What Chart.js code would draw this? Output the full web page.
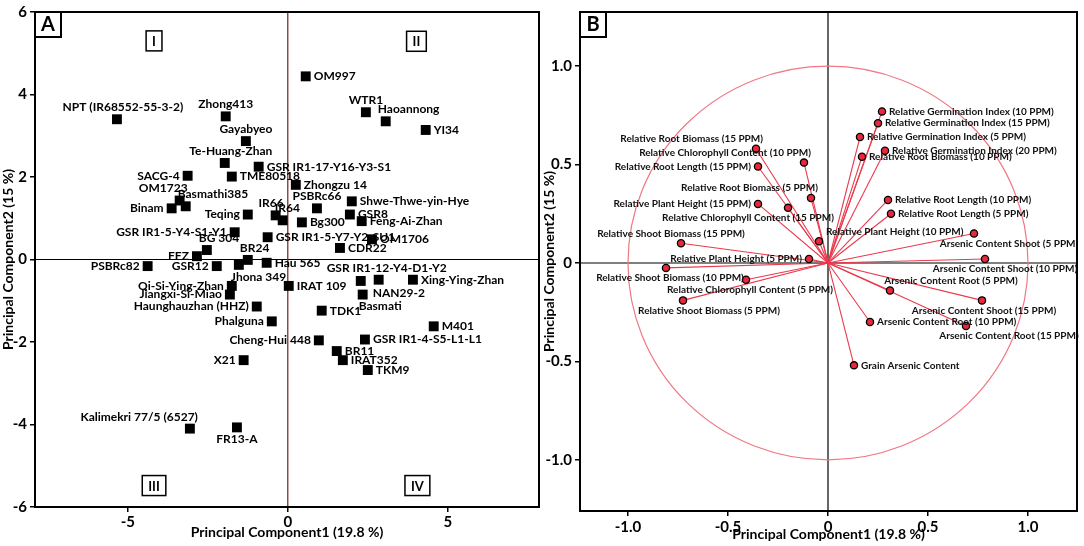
<!DOCTYPE html>
<html>
<head>
<meta charset="utf-8">
<script src="https://cdn.jsdelivr.net/npm/chart.js@4.4.1/dist/chart.umd.min.js"></script>
<style>
body{margin:0;background:#fff;}
#wrap{position:relative;width:1084px;height:546px;}
#boxA{position:absolute;left:0;top:0;width:541px;height:546px;}
#boxB{position:absolute;left:541px;top:0;width:543px;height:546px;}
</style>
</head>
<body>
<div id="wrap">
  <div id="boxA"><canvas id="chartA"></canvas></div>
  <div id="boxB"><canvas id="chartB"></canvas></div>
</div>
<script>
'use strict';

// panel A: cultivar scores
const cultivars = ['NPT (IR68552-55-3-2)', 'Zhong413', 'Gayabyeo', 'Te-Huang-Zhan', 'GSR IR1-17-Y16-Y3-S1',
  'TME80518', 'SACG-4', 'OM1723', 'Basmathi385', 'Binam', 'Teqing', 'IR66', 'IR64', 'PSBRc66', 'Bg300',
  'GSR IR1-5-Y4-S1-Y1', 'GSR IR1-5-Y7-Y2-SU1', 'BG 304', 'FFZ', 'BR24', 'PSBRc82', 'GSR12', 'Jhona 349',
  'Hau 565', 'OM997', 'WTR1', 'Haoannong', 'YI34', 'Zhongzu 14', 'Shwe-Thwe-yin-Hye', 'GSR8', 'Feng-Ai-Zhan',
  'OM1706', 'CDR22', 'Qi-Si-Ying-Zhan', 'Jiangxi-Si-Miao', 'Haunghauzhan (HHZ)', 'Phalguna', 'X21',
  'Kalimekri 77/5 (6527)', 'FR13-A', 'IRAT 109', 'GSR IR1-12-Y4-D1-Y2', 'NAN29-2', 'Basmati', 'Xing-Ying-Zhan',
  'TDK1', 'M401', 'Cheng-Hui 448', 'GSR IR1-4-S5-L1-L1', 'BR11', 'IRAT352', 'TKM9'];
const pc1Scores = [-5.34, -1.94, -1.31, -1.97, -0.91, -1.75, -3.13, -3.38, -3.19, -3.63, -1.25, -0.38, -0.16, 0.91, 0.44,
  -1.66, -0.63, -2.53, -2.84, -1.25, -4.38, -2.22, -1.53, -0.66, 0.56, 2.44, 3.06, 4.31, 0.25, 2.0, 1.94, 2.31,
  2.63, 1.63, -1.75, -1.81, -0.97, -0.5, -1.38, -3.06, -1.59, 0.03, 2.84, 2.28, 2.34, 3.91, 1.06, 4.56, 0.97,
  2.41, 1.53, 1.72, 2.5];
const pc2Scores = [3.4, 3.47, 2.87, 2.34, 2.25, 2.01, 2.03, 1.43, 1.29, 1.24, 1.09, 1.07, 0.95, 1.24, 0.9,
  0.66, 0.54, 0.23, 0.08, -0.01, -0.16, -0.16, -0.13, -0.08, 4.44, 3.57, 3.35, 3.14, 1.81, 1.41, 1.09, 0.93,
  0.49, 0.28, -0.64, -0.85, -1.14, -1.5, -2.44, -4.1, -4.07, -0.64, -0.49, -0.52, -0.85, -0.49, -1.24, -1.62, -1.96,
  -1.94, -2.22, -2.44, -2.68];
const cultivarLabelPlace = ['t', 't', 't', 't', 'r', 'r', 'l', 'tl', 'tr', 'l', 'l', 'tl', 'tr', 't', 'r',
  'l', 'r', 'tr', 'l', 'tr', 'l', 'l', 'br', 'r', 'r', 't', 'tr', 'r', 'r', 'r', 'r', 'r',
  'r', 'r', 'l', 'l', 'l', 'l', 'l', 'tl', 'b', 'r', 't', 'br', 'br', 'r', 'r', 'r', 'l',
  'r', 'r', 'r', 'r'];
const cultivarLabelNudge = [6, 0, 0, 6, 0, 0, 0, 0, 0, 0, 0, 0, 0, 0, 0,
  0, 0, 0, 0, 0, 0, 0, 0, 0, 0, 0, 0, 0, 0, 0, 0, 0,
  0, 0, 0, 0, 0, 0, 0, 0, 0, 0, 8, 20, 4, 0, 0, 0, 0,
  0, 0, 0, 0];
const quadrantNames = ['I', 'II', 'III', 'IV'];
const quadrantPc1 = [-4.18, 4.02, -4.18, 4.05];
const quadrantPc2 = [5.3, 5.29, -5.48, -5.48];
const ticksAx = [-5, 0, 5];
const ticksAy = [-6, -4, -2, 0, 2, 4, 6];

// panel B: trait loadings
const traits = ['Relative Root Biomass (15 PPM)', 'Relative Chlorophyll Content (10 PPM)', 'Relative Root Length (15 PPM)',
  'Relative Root Biomass (5 PPM)', 'Relative Plant Height (15 PPM)', 'Relative Chlorophyll Content (15 PPM)',
  'Relative Plant Height (10 PPM)', 'Relative Shoot Biomass (15 PPM)', 'Relative Plant Height (5 PPM)',
  'Relative Shoot Biomass (10 PPM)', 'Relative Chlorophyll Content (5 PPM)', 'Relative Shoot Biomass (5 PPM)',
  'Relative Germination Index (10 PPM)', 'Relative Germination Index (15 PPM)', 'Relative Germination Index (5 PPM)',
  'Relative Germination Index (20 PPM)', 'Relative Root Biomass (10 PPM)', 'Relative Root Length (10 PPM)',
  'Relative Root Length (5 PPM)', 'Arsenic Content Shoot (5 PPM)', 'Arsenic Content Shoot (10 PPM)',
  'Arsenic Content Root (5 PPM)', 'Arsenic Content Shoot (15 PPM)', 'Arsenic Content Root (10 PPM)',
  'Arsenic Content Root (15 PPM)', 'Grain Arsenic Content'];
const pc1Loadings = [-0.36, -0.12, -0.35, -0.085, -0.35, -0.2, -0.045, -0.735, -0.095, -0.81, -0.41, -0.725,
  0.27, 0.25, 0.16, 0.285, 0.17, 0.3, 0.315, 0.73, 0.785, 0.31, 0.77, 0.21, 0.69, 0.13];
const pc2Loadings = [0.58, 0.51, 0.49, 0.33, 0.3, 0.28, 0.11, 0.1, 0.02, -0.025, -0.085, -0.19,
  0.77, 0.71, 0.64, 0.57, 0.54, 0.32, 0.25, 0.15, 0.02, -0.14, -0.19, -0.3, -0.32, -0.52];
const traitLabelPlace = ['tl', 'tl', 'l', 'tl', 'l', 'b', 'tr', 't', 'l', 'b', 'b', 'b',
  'r', 'r', 'r', 'r', 'r', 'r', 'r', 'b', 'b', 't', 'b', 'r', 'b', 'r'];
const traitLabelNudge = [0, 0, 0, 0, 0, -40, 14, -10, 0, 4, 4, 26,
  0, 0, 0, 0, 0, 0, 0, 35, 20, 61, 2, 0, 43, 0];
const ticksBx = [-1, -0.5, 0, 0.5, 1];
const ticksBy = [-1, -0.5, 0, 0.5, 1];

const FONT = 'Lato, "DejaVu Sans", sans-serif';

function placeLabel(ctx, text, px, py, code, m, fs, nudge) {
  let x = px, y = py, align = 'center';
  let up = py - m - fs / 2 - 1, down = py + m + fs / 2 + 1;
  switch (code) {
    case 'r': align = 'left'; x = px + m + 3; break;
    case 'l': align = 'right'; x = px - m - 3; break;
    case 't': y = up; break;
    case 'b': y = down; break;
    case 'tl': align = 'right'; x = px + m + 3; y = up; break;
    case 'tr': align = 'left'; x = px - m - 3; y = up; break;
    case 'bl': align = 'right'; x = px + m + 3; y = down; break;
    case 'br': align = 'left'; x = px - m - 3; y = down; break;
  }
  ctx.textAlign = align;
  ctx.textBaseline = 'middle';
  ctx.fillText(text, x + (nudge || 0), y);
}

function panelLetter(chart, letter) {
  let ctx = chart.ctx, a = chart.chartArea;
  ctx.save();
  ctx.fillStyle = '#fff';
  ctx.fillRect(a.left, a.top, 26, 25);
  ctx.strokeStyle = '#000';
  ctx.lineWidth = 2;
  ctx.strokeRect(a.left, a.top, 26, 25);
  ctx.fillStyle = '#000';
  ctx.font = 'bold 20px ' + FONT;
  ctx.textAlign = 'center';
  ctx.textBaseline = 'middle';
  ctx.fillText(letter, a.left + 13, a.top + 13);
  ctx.restore();
}

function frame(chart) {
  let ctx = chart.ctx, a = chart.chartArea;
  ctx.save();
  ctx.strokeStyle = '#000';
  ctx.lineWidth = 2;
  ctx.strokeRect(a.left, a.top, a.right - a.left, a.bottom - a.top);
  ctx.restore();
}

function zeroLines(chart, vColor) {
  let ctx = chart.ctx, a = chart.chartArea;
  let x0 = chart.scales.x.getPixelForValue(0);
  let y0 = chart.scales.y.getPixelForValue(0);
  ctx.save();
  ctx.lineWidth = 1.2;
  ctx.strokeStyle = '#000';
  ctx.beginPath();
  ctx.moveTo(a.left, y0); ctx.lineTo(a.right, y0);
  ctx.stroke();
  ctx.strokeStyle = vColor;
  ctx.beginPath();
  ctx.moveTo(x0, a.top); ctx.lineTo(x0, a.bottom);
  ctx.stroke();
  ctx.restore();
}

function axisOpts(min, max, tickList, title, height, width, fmt, pad) {
  let o = {
    type: 'linear', min: min, max: max,
    afterBuildTicks: s => { s.ticks = tickList.map(v => ({ value: v })); },
    grid: { drawOnChartArea: false, drawTicks: true, tickLength: 5, color: '#000', lineWidth: 1.5 },
    border: { display: false },
    ticks: { color: '#000', font: { family: FONT, size: 15, weight: 'bold' }, padding: pad, maxRotation: 0, autoSkip: false, callback: fmt },
    title: { display: true, text: title, color: '#000', font: { family: FONT, size: 14, weight: 'bold' }, padding: { top: 0, bottom: 0 } }
  };
  if (height) o.afterFit = s => { s.height = height; };
  if (width) o.afterFit = s => { s.width = width; };
  return o;
}

// ---------- chart A ----------
let scoresData = [];
for (let i = 0; i < cultivars.length; i++) {
  scoresData.push({ x: pc1Scores[i], y: pc2Scores[i] });
}

const panelAPlugin = {
  id: 'panelA',
  beforeDatasetsDraw(chart) {
    zeroLines(chart, '#7a1a1a');
  },
  afterDatasetsDraw(chart) {
    let ctx = chart.ctx, sx = chart.scales.x, sy = chart.scales.y;
    ctx.save();
    ctx.fillStyle = '#000';
    ctx.font = 'bold 12px ' + FONT;
    for (let i = 0; i < cultivars.length; i++) {
      placeLabel(ctx, cultivars[i], sx.getPixelForValue(pc1Scores[i]), sy.getPixelForValue(pc2Scores[i]),
        cultivarLabelPlace[i], 5, 12, cultivarLabelNudge[i]);
    }
    // quadrant boxes
    ctx.font = 'bold 13px ' + FONT;
    ctx.textAlign = 'center';
    ctx.textBaseline = 'middle';
    ctx.lineWidth = 1.5;
    for (let q = 0; q < quadrantNames.length; q++) {
      let qx = sx.getPixelForValue(quadrantPc1[q]);
      let qy = sy.getPixelForValue(quadrantPc2[q]);
      let w = ctx.measureText(quadrantNames[q]).width + 12;
      ctx.strokeStyle = '#000';
      ctx.strokeRect(qx - w / 2, qy - 10, w, 20);
      ctx.fillText(quadrantNames[q], qx, qy + 1);
    }
    ctx.restore();
    frame(chart);
    panelLetter(chart, 'A');
  }
};

new Chart(document.getElementById('chartA'), {
  type: 'scatter',
  data: {
    datasets: [{
      label: 'Cultivars',
      data: scoresData,
      pointStyle: 'rect',
      pointRadius: 7,
      pointHoverRadius: 7,
      backgroundColor: '#000',
      borderWidth: 0
    }]
  },
  options: {
    responsive: true,
    maintainAspectRatio: false,
    animation: false,
    layout: { padding: { top: 8, left: 0, right: 2, bottom: 5 }, autoPadding: false },
    plugins: { legend: { display: false }, tooltip: { enabled: false } },
    scales: {
      x: axisOpts(-7.9, 7.85, ticksAx, 'Principal Component1 (19.8 %)', 34, 0, v => String(v), 1),
      y: axisOpts(-6, 6, ticksAy, 'Principal Component2 (15 %)', 0, 35, v => String(v), 3)
    }
  },
  plugins: [panelAPlugin]
});

// ---------- chart B ----------
let loadingsData = [];
for (let i = 0; i < traits.length; i++) {
  loadingsData.push({ x: pc1Loadings[i], y: pc2Loadings[i] });
}

const panelBPlugin = {
  id: 'panelB',
  beforeDatasetsDraw(chart) {
    let ctx = chart.ctx, sx = chart.scales.x, sy = chart.scales.y;
    zeroLines(chart, '#000');
    let x0 = sx.getPixelForValue(0), y0 = sy.getPixelForValue(0);
    ctx.save();
    // unit circle
    ctx.strokeStyle = '#f07884';
    ctx.lineWidth = 1.2;
    ctx.beginPath();
    ctx.ellipse(x0, y0, sx.getPixelForValue(1) - x0, y0 - sy.getPixelForValue(1), 0, 0, Math.PI * 2);
    ctx.stroke();
    // loading vectors
    ctx.strokeStyle = '#ea3a4c';
    ctx.lineWidth = 1.1;
    for (let i = 0; i < traits.length; i++) {
      ctx.beginPath();
      ctx.moveTo(x0, y0);
      ctx.lineTo(sx.getPixelForValue(pc1Loadings[i]), sy.getPixelForValue(pc2Loadings[i]));
      ctx.stroke();
    }
    ctx.restore();
  },
  afterDatasetsDraw(chart) {
    let ctx = chart.ctx, sx = chart.scales.x, sy = chart.scales.y;
    ctx.save();
    ctx.fillStyle = '#111';
    ctx.font = 'bold 10px ' + FONT;
    for (let i = 0; i < traits.length; i++) {
      placeLabel(ctx, traits[i], sx.getPixelForValue(pc1Loadings[i]), sy.getPixelForValue(pc2Loadings[i]),
        traitLabelPlace[i], 4, 10, traitLabelNudge[i]);
    }
    ctx.restore();
    frame(chart);
    panelLetter(chart, 'B');
  }
};

const fmtB = v => (v === 0 ? '0' : v.toFixed(1));

new Chart(document.getElementById('chartB'), {
  type: 'scatter',
  data: {
    datasets: [{
      label: 'Traits',
      data: loadingsData,
      pointStyle: 'circle',
      pointRadius: 3.6,
      pointHoverRadius: 3.6,
      backgroundColor: '#e8283c',
      borderColor: '#000',
      borderWidth: 1.3
    }]
  },
  options: {
    responsive: true,
    maintainAspectRatio: false,
    animation: false,
    layout: { padding: { top: 8, left: 0, right: 7, bottom: 3 }, autoPadding: false },
    plugins: { legend: { display: false }, tooltip: { enabled: false } },
    scales: {
      x: axisOpts(-1.24, 1.245, ticksBx, 'Principal Component1 (19.8 %)', 32, 0, fmtB, 2),
      y: axisOpts(-1.26, 1.275, ticksBy, 'Principal Component2 (15 %)', 0, 39, fmtB, 3)
    }
  },
  plugins: [panelBPlugin]
});
</script>
</body>
</html>
